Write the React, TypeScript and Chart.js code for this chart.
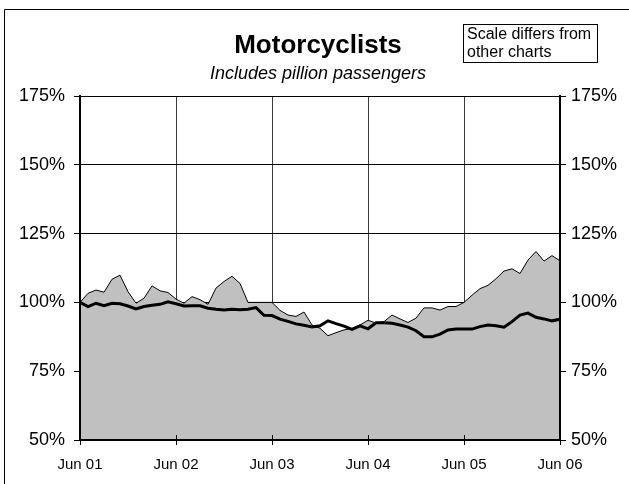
import React, { useEffect, useRef } from 'react';
import { Chart, registerables } from 'chart.js';

Chart.register(...registerables);

const FONT = "'Liberation Sans', Arial, sans-serif";

const TITLE = 'Motorcyclists';
const SUBTITLE = 'Includes pillion passengers';
const NOTE_LINES = ['Scale differs from', 'other charts'];

const MONTH_NAMES = ['Jun', 'Jul', 'Aug', 'Sep', 'Oct', 'Nov', 'Dec', 'Jan', 'Feb', 'Mar', 'Apr', 'May'];
const YEAR_LABELS = ['01', '02', '03', '04', '05', '06'];

// Monthly categories, Jun 01 .. Jun 06
const monthLabels: string[] = [];
for (let y = 0; y < 5; y++) {
  for (let m = 0; m < 12; m++) {
    const yr = m < 7 ? YEAR_LABELS[y] : YEAR_LABELS[y + 1];
    monthLabels.push(`${MONTH_NAMES[m]} ${yr}`);
  }
}
monthLabels.push(`Jun ${YEAR_LABELS[5]}`);

// Grey area series (% of baseline)
const areaSeries = [
  100, 103.3, 104.5, 103.7, 108.4, 109.9, 103.9, 99.7, 101.5, 106, 104.2, 103.6,
  101.2, 99.7, 102.1, 101, 99.3, 105.2, 107.6, 109.5, 106.9, 100, 100, 100,
  100, 97.1, 95.4, 94.9, 96.5, 91.8, 90.6, 87.9, 89, 90, 90.5, 91.8,
  93.5, 92.5, 93, 95.4, 94, 92.7, 94.3, 98, 98, 97.2, 98.5, 98.5,
  100, 102.6, 105, 106.2, 108.6, 111.4, 112.2, 110.5, 115.4, 118.5, 115, 117,
  115.1,
];

// Thick black line series (% of baseline)
const lineSeries = [
  100, 98.5, 99.7, 98.8, 99.7, 99.5, 98.7, 97.6, 98.5, 99, 99.3, 100.2,
  99.5, 98.7, 98.8, 98.8, 97.9, 97.5, 97.2, 97.5, 97.3, 97.5, 98.1, 95.3,
  95.2, 93.9, 93.1, 92.2, 91.7, 91.1, 91.5, 93.3, 92.3, 91.4, 90.2, 91.5,
  90.4, 92.6, 92.6, 92.4, 91.8, 91, 89.7, 87.5, 87.5, 88.5, 90, 90.3,
  90.3, 90.3, 91.2, 91.8, 91.5, 91, 93, 95.4, 96.1, 94.6, 94, 93.3,
  93.9,
];

const Y_MIN = 50;
const Y_MAX = 175;
const Y_STEP = 25;

const decorPlugin = {
  id: 'decor',
  beforeDraw(chart: any) {
    const ctx = chart.ctx;
    ctx.save();
    ctx.fillStyle = '#ffffff';
    ctx.fillRect(0, 0, chart.width, chart.height);
    ctx.restore();
  },
  afterDatasetsDraw(chart: any) {
    const ctx = chart.ctx;
    const xs = chart.scales.x;
    const bottom = chart.chartArea.bottom;
    ctx.save();
    ctx.strokeStyle = '#000';
    ctx.lineWidth = 1;
    for (let i = 0; i < monthLabels.length; i += 12) {
      const x = Math.round(xs.getPixelForValue(i)) + 0.5;
      ctx.beginPath();
      ctx.moveTo(x, bottom - 5);
      ctx.lineTo(x, bottom);
      ctx.stroke();
    }
    ctx.restore();
  },
  afterDraw(chart: any) {
    const ctx = chart.ctx;
    ctx.save();
    // outer frame
    ctx.strokeStyle = '#000';
    ctx.lineWidth = 1;
    ctx.beginPath();
    ctx.moveTo(4.5, chart.height + 5);
    ctx.lineTo(4.5, 9.5);
    ctx.lineTo(chart.width + 5, 9.5);
    ctx.stroke();

    // title
    ctx.fillStyle = '#000';
    ctx.textAlign = 'center';
    ctx.textBaseline = 'middle';
    ctx.font = `bold 26px ${FONT}`;
    ctx.fillText(TITLE, 318, 46);
    ctx.font = `italic 18px ${FONT}`;
    ctx.fillText(SUBTITLE, 318, 74);

    // note box
    ctx.strokeRect(463.5, 24.5, 134, 38);
    ctx.font = `16px ${FONT}`;
    ctx.textAlign = 'left';
    ctx.fillText(NOTE_LINES[0], 467, 35);
    ctx.fillText(NOTE_LINES[1], 467, 53);
    ctx.restore();
  },
};

export default function App() {
  const canvasRef = useRef<HTMLCanvasElement | null>(null);

  useEffect(() => {
    const canvas = canvasRef.current;
    if (!canvas) return;
    const isYear = (i: number) => i % 12 === 0;
    const chart = new Chart(canvas, {
      type: 'line',
      data: {
        labels: monthLabels,
        datasets: [
          {
            label: 'Trend',
            data: lineSeries,
            borderColor: '#000',
            borderWidth: 3,
            pointRadius: 0,
            fill: false,
            tension: 0,
            order: 1,
          },
          {
            label: 'Motorcyclists',
            data: areaSeries,
            borderColor: '#000',
            borderWidth: 1,
            backgroundColor: '#c0c0c0',
            pointRadius: 0,
            fill: 'start',
            tension: 0,
            order: 2,
          },
        ],
      },
      options: {
        responsive: false,
        animation: false,
        devicePixelRatio: 1,
        layout: { padding: { top: 96, left: 0, right: 0, bottom: 0 } },
        plugins: {
          legend: { display: false },
          tooltip: { enabled: false },
          title: { display: false },
        },
        scales: {
          x: {
            type: 'category',
            offset: false,
            grid: {
              display: true,
              drawOnChartArea: true,
              drawTicks: true,
              tickLength: 5,
              lineWidth: 1,
              color: (c: any) =>
                isYear(c.index) && c.index > 0 && c.index < monthLabels.length - 1
                  ? '#3a3a3a'
                  : 'rgba(0,0,0,0)',
              tickColor: (c: any) => (isYear(c.index) ? '#000' : 'rgba(0,0,0,0)'),
            },
            border: { display: true, color: '#000', width: 2, z: 1 },
            ticks: {
              autoSkip: false,
              maxRotation: 0,
              minRotation: 0,
              padding: 11,
              color: '#000',
              font: { family: FONT, size: 15 },
              callback: (_v: any, i: number) => (isYear(i) ? monthLabels[i] : ''),
            },
            afterFit: (s: any) => {
              s.height = 44;
            },
          },
          y: {
            position: 'left',
            min: Y_MIN,
            max: Y_MAX,
            grid: {
              color: '#000',
              lineWidth: 1,
              tickLength: 6,
              tickColor: '#000',
            },
            border: { display: true, color: '#000', width: 2, z: 1 },
            ticks: {
              stepSize: Y_STEP,
              padding: 9,
              color: '#000',
              font: { family: FONT, size: 18 },
              callback: (v: any) => `${v}%`,
            },
            afterFit: (s: any) => {
              s.width = 80;
            },
          },
          y2: {
            position: 'right',
            min: Y_MIN,
            max: Y_MAX,
            grid: {
              drawOnChartArea: false,
              tickLength: 6,
              tickColor: '#000',
              color: '#000',
            },
            border: { display: true, color: '#000', width: 2, z: 1 },
            ticks: {
              stepSize: Y_STEP,
              padding: 5,
              color: '#000',
              font: { family: FONT, size: 18 },
              callback: (v: any) => `${v}%`,
            },
            afterFit: (s: any) => {
              s.width = 69;
            },
          },
        },
      },
      plugins: [decorPlugin],
    } as any);
    return () => chart.destroy();
  }, []);

  return (
    <div style={{ position: 'fixed', left: 0, top: 0, width: 629, height: 484, background: '#fff' }}>
      <canvas ref={canvasRef} width={629} height={484} style={{ display: 'block', width: 629, height: 484 }} />
    </div>
  );
}
